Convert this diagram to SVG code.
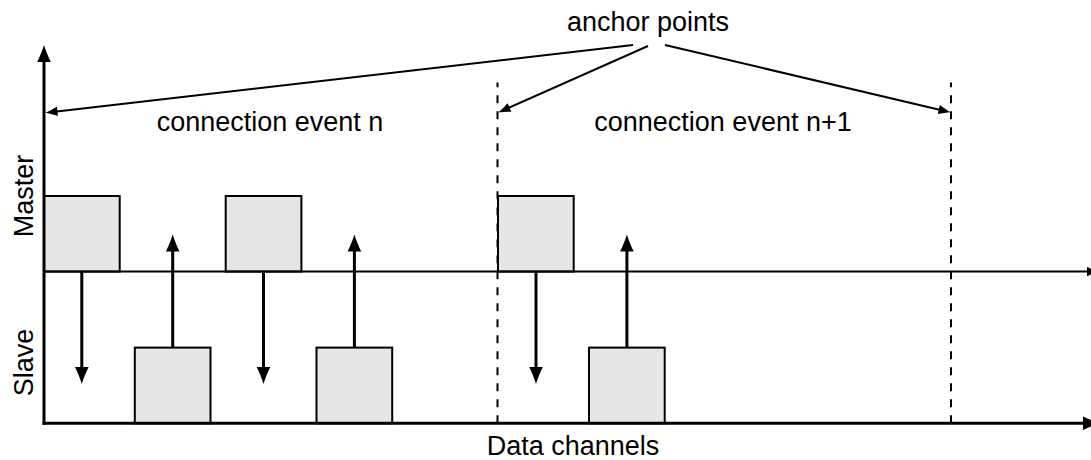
<svg xmlns="http://www.w3.org/2000/svg" width="1091" height="460" viewBox="0 0 1091 460">
  <style>
    .lbl { font-family: "Liberation Sans", Arial, sans-serif; font-size: 27px; fill: #000; }
    .box { fill: #e6e6e6; stroke: #000; stroke-width: 2; }
    .axis { fill: none; stroke: #000; stroke-width: 3; }
    .thin { fill: none; stroke: #000; stroke-width: 2; }
    .msg { fill: none; stroke: #000; stroke-width: 3; marker-end: url(#headL); }
    .anchor { fill: none; stroke: #000; stroke-width: 2; marker-end: url(#headS); }
    .dash { fill: none; stroke: #000; stroke-width: 2; stroke-dasharray: 8 8; }
  </style>
  <defs>
    <!-- latex-style arrowheads; the line ends inside the head, tip lies ahead of it -->
    <marker id="headL" markerUnits="userSpaceOnUse" orient="auto" refX="0" refY="0"
            markerWidth="20" markerHeight="16" viewBox="-8 -8 20 16" overflow="visible">
      <path d="M10,0 C5,-1.4 -2,-4.4 -7,-6.8 L-7,6.8 C-2,4.4 5,1.4 10,0 Z" fill="#000"/>
    </marker>
    <marker id="headS" markerUnits="userSpaceOnUse" orient="auto" refX="0" refY="0"
            markerWidth="14" markerHeight="11" viewBox="-6 -5.5 14 11" overflow="visible">
      <path d="M7,0 C3.5,-1 -1.5,-3 -5,-4.6 L-5,4.6 C-1.5,3 3.5,1 7,0 Z" fill="#000"/>
    </marker>
  </defs>

  <!-- connection event boundaries -->
  <g id="boundaries">
    <path class="dash" d="M497.5,423.3 V82.5"/>
    <path class="dash" d="M951,423.3 V82.5"/>
  </g>

  <!-- master packets -->
  <g id="master-packets">
    <rect id="m1" class="box" x="44" y="196" width="75.7" height="75.6"/>
    <rect id="m2" class="box" x="225.7" y="196" width="75.7" height="75.6"/>
    <rect id="m3" class="box" x="498" y="196" width="75.7" height="75.6"/>
  </g>

  <!-- slave packets -->
  <g id="slave-packets">
    <rect id="s1" class="box" x="134.8" y="347.6" width="75.7" height="75.7"/>
    <rect id="s2" class="box" x="316.5" y="347.6" width="75.7" height="75.7"/>
    <rect id="s3" class="box" x="589" y="347.6" width="75.7" height="75.7"/>
  </g>

  <!-- axes and master timeline -->
  <g id="axes">
    <path class="thin" d="M44,271.6 H1092" marker-end="url(#headS)"/>
    <path class="axis" d="M44,424.8 V55" marker-end="url(#headL)"/>
    <path class="axis" d="M42.5,423.3 H1090" marker-end="url(#headL)"/>
  </g>

  <!-- packet exchanges and anchor point pointers -->
  <g id="connectors">
    <path class="msg" d="M81.8,271.6 V374"/>
    <path class="msg" d="M172.7,347.6 V244.5"/>
    <path class="msg" d="M263.5,271.6 V374"/>
    <path class="msg" d="M354.4,347.6 V244.5"/>
    <path class="msg" d="M536,271.6 V374"/>
    <path class="msg" d="M626.9,347.6 V244.5"/>
    <path class="anchor" d="M633,45 L52.45,111.9"/>
    <path class="anchor" d="M648,46 L504.9,109.46"/>
    <path class="anchor" d="M665,45 L943.7,110.7"/>
  </g>

  <!-- labels -->
  <g id="labels">
    <text id="anchor-points" class="lbl" x="648" y="31" text-anchor="middle">anchor points</text>
    <text id="event-n" class="lbl" x="270" y="131" text-anchor="middle">connection event n</text>
    <text id="event-n1" class="lbl" x="723" y="131" text-anchor="middle">connection event n+1</text>
    <text id="x-label" class="lbl" x="573" y="455" text-anchor="middle">Data channels</text>
    <text id="master-label" class="lbl" text-anchor="middle" transform="translate(33,196) rotate(-90)">Master</text>
    <text id="slave-label" class="lbl" text-anchor="middle" transform="translate(33,362.5) rotate(-90)">Slave</text>
  </g>
</svg>
